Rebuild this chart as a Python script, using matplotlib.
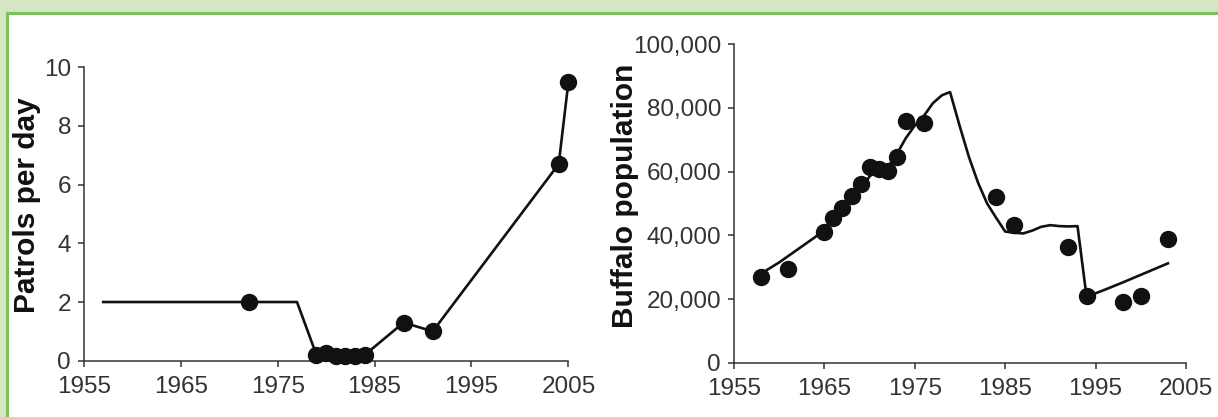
import matplotlib.pyplot as plt
from matplotlib.patches import Rectangle

plt.rcParams['font.family'] = ['Liberation Sans', 'DejaVu Sans']

# left panel: patrols per day
patrol_years = [1972, 1979, 1980, 1981, 1982, 1983, 1984, 1988, 1991, 2004, 2005]
patrol_vals = [2.0, 0.2, 0.25, 0.15, 0.15, 0.15, 0.2, 1.3, 1.0, 6.7, 9.5]
patrol_line_years = [1957, 1977, 1979, 1984, 1988, 1991, 2004, 2005]
patrol_line_vals = [2.0, 2.0, 0.2, 0.2, 1.3, 1.0, 6.7, 9.5]

# right panel: buffalo counts and model
buff_years = [1958, 1961, 1965, 1966, 1967, 1968, 1969, 1970, 1971, 1972, 1973,
              1974, 1976, 1984, 1986, 1992, 1994, 1998, 2000, 2003]
buff_vals = [27000, 29300, 41000, 45500, 48500, 52500, 56000, 61500, 60800, 60200,
             64500, 76000, 75200, 52000, 43200, 36400, 21000, 19200, 21000, 38800]
model_years = [1958, 1960, 1962, 1964, 1965, 1967, 1969, 1970, 1971, 1972, 1973,
               1974, 1975, 1976, 1977, 1978, 1978.9, 1980, 1981, 1982, 1983, 1984,
               1985, 1986, 1987, 1988, 1989, 1990, 1991, 1992, 1993, 1994, 1996,
               1998, 2000, 2002, 2003]
model_vals = [28000, 31500, 35500, 39500, 42000, 48000, 54500, 58500, 61000, 61300,
              65500, 70500, 74500, 77500, 81500, 84000, 85000, 74000, 64500, 56500,
              50000, 45500, 41200, 40800, 40600, 41500, 42700, 43200, 42900, 42800,
              42900, 20700, 22900, 25200, 27600, 30000, 31200]

x_ticks = [1955, 1965, 1975, 1985, 1995, 2005]
left_yticks = [0, 2, 4, 6, 8, 10]
right_yticks = [0, 20000, 40000, 60000, 80000, 100000]
right_ylabels = ['0', '20,000', '40,000', '60,000', '80,000', '100,000']

fig = plt.figure(figsize=(12.18, 4.17), dpi=100, facecolor='#d4e7c2')
W, H = 1218, 417
panel = Rectangle((7 / W, -0.2), 1.2, 1.2 - 13 / H, transform=fig.transFigure,
                  facecolor='white', edgecolor='#7cc15a', linewidth=2.2, zorder=-5)
fig.patches.append(panel)

ax1 = fig.add_axes([83.8 / W, 1 - 360.7 / H, (568.4 - 83.8) / W, (360.7 - 67.3) / H])
ax2 = fig.add_axes([734 / W, 1 - 362.7 / H, (1186 - 734) / W, (362.7 - 44.3) / H])

tc = '#333333'
for ax in (ax1, ax2):
    ax.set_facecolor('none')
    ax.set_zorder(2)
    for s in ('top', 'right'):
        ax.spines[s].set_visible(False)
    for s in ('left', 'bottom'):
        ax.spines[s].set_color(tc)
        ax.spines[s].set_linewidth(1.1)
    ax.tick_params(direction='out', length=4.3, width=1.1, color=tc,
                   labelcolor=tc, labelsize=17.5)
    ax.tick_params(axis='x', pad=7)
    ax.tick_params(axis='y', pad=5)
    ax.set_xlim(1955, 2005)
    ax.set_xticks(x_ticks)

ax1.plot(patrol_line_years, patrol_line_vals, color='#111111', lw=1.9, zorder=2, clip_on=False)
ax1.plot(patrol_years, patrol_vals, 'o', color='#111111', ms=11.5, zorder=3, clip_on=False)
ax1.set_ylim(0, 10)
ax1.set_yticks(left_yticks)
ax1.set_ylabel('Patrols per day', fontsize=21.5, fontweight='bold', color='#111111')
ax1.yaxis.set_label_coords(-0.088, 0.53)

ax2.plot(model_years, model_vals, color='#111111', lw=1.9, zorder=2, clip_on=False)
ax2.plot(buff_years, buff_vals, 'o', color='#111111', ms=11.5, zorder=3, clip_on=False)
ax2.set_ylim(0, 100000)
ax2.set_yticks(right_yticks)
ax2.set_yticklabels(right_ylabels)
ax2.set_ylabel('Buffalo population', fontsize=21.5, fontweight='bold', color='#111111')
ax2.yaxis.set_label_coords(-0.21, 0.525)

fig.savefig('out.png', dpi=100, facecolor=fig.get_facecolor())
